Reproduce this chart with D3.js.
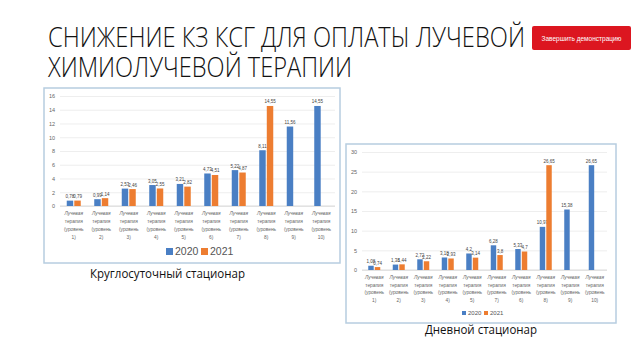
<!DOCTYPE html>
<html><head><meta charset="utf-8">
<script src="https://cdn.jsdelivr.net/npm/d3@7"></script>
<style>body{margin:0;background:#fff;}svg{display:block;}</style>
</head><body>
<svg id="c" width="640" height="360"></svg>
<script>
const titleLines = ["СНИЖЕНИЕ КЗ КСГ ДЛЯ ОПЛАТЫ ЛУЧЕВОЙ", "ХИМИОЛУЧЕВОЙ ТЕРАПИИ"];
const buttonText = "Завершить демонстрацию";
const seriesNames = ["2020", "2021"];

const cats1 = ["1)", "2)", "3)", "4)", "5)", "6)", "7)", "8)", "9)", "10)"];
const s1_2020 = [0.78, 0.99, 2.53, 3.05, 3.21, 4.73, 5.22, 8.11, 11.56, 14.55];
const s1_2021 = [0.79, 1.14, 2.46, 2.55, 2.82, 4.51, 4.87, 14.55, null, null];
const ticks1 = [0, 2, 4, 6, 8, 10, 12, 14, 16];
const caption1 = "Круглосуточный стационар";

const cats2 = ["1)", "2)", "3)", "4)", "5)", "7)", "6)", "8)", "9)", "10)"];
const s2_2020 = [1.08, 1.38, 2.72, 3.18, 4.2, 6.28, 5.33, 10.97, 15.38, 26.65];
const s2_2021 = [0.74, 1.44, 2.22, 2.93, 3.14, 3.8, 4.7, 26.65, null, null];
const ticks2 = [0, 5, 10, 15, 20, 25, 30];
const caption2 = "Дневной стационар";

const catPrefix = ["Лучевая", "терапия", "(уровень"];
const colors = ["#4a7fc4", "#ed7d31"];

const svg = d3.select("#c");

// Title
svg.append("g").selectAll("text").data(titleLines).join("text")
  .attr("x", 48).attr("y", (d, i) => 47 + i * 30)
  .attr("font-family", "Open Sans, sans-serif").attr("font-weight", 300)
  .attr("font-size", 28).attr("fill", "#111")
  .attr("textLength", (d, i) => i === 0 ? 477 : 304).attr("lengthAdjust", "spacingAndGlyphs")
  .text(d => d);

// Button
const btn = svg.append("g");
btn.append("rect").attr("x", 532).attr("y", 26).attr("width", 99).attr("height", 24).attr("rx", 2)
  .attr("fill", "#dc1620");
btn.append("text").attr("x", 581.5).attr("y", 40.5).attr("text-anchor", "middle")
  .attr("font-family", "Liberation Sans, sans-serif").attr("font-size", 6.5).attr("fill", "#fff")
  .attr("textLength", 80).attr("lengthAdjust", "spacingAndGlyphs").text(buttonText);

function fmt(v) { return String(v).replace(".", ","); }

function chart(cfg) {
  const g = svg.append("g");
  g.append("rect").attr("x", cfg.box[0]).attr("y", cfg.box[1])
    .attr("width", cfg.box[2] - cfg.box[0]).attr("height", cfg.box[3] - cfg.box[1])
    .attr("fill", "#fff").attr("stroke", "#b7cde0").attr("stroke-width", 1.5);

  const y = d3.scaleLinear().domain([0, cfg.ticks[cfg.ticks.length - 1]]).range([cfg.plot.y0, cfg.plot.y1]);
  const x = d3.scaleBand().domain(d3.range(cfg.cats.length)).range([cfg.plot.x0, cfg.plot.x1]);
  const xs = d3.scaleBand().domain([0, 1]).range([x.bandwidth() / 2 - cfg.bw - cfg.gap / 2, x.bandwidth() / 2 + cfg.bw + cfg.gap / 2]).paddingInner(cfg.gap / (2 * cfg.bw + cfg.gap));

  const yAxis = d3.axisLeft(y).tickValues(cfg.ticks).tickSize(-(cfg.plot.x1 - cfg.plot.x0)).tickPadding(5).tickFormat(d => d);
  const ga = g.append("g").attr("transform", `translate(${cfg.plot.x0},0)`).call(yAxis);
  ga.select(".domain").remove();
  ga.selectAll(".tick line").attr("stroke", "#e2e2e2").attr("stroke-width", 0.6);
  ga.selectAll(".tick text").attr("font-family", "Liberation Sans, sans-serif").attr("font-size", 5.5).attr("fill", "#666");
  g.append("line").attr("x1", cfg.plot.x0).attr("x2", cfg.plot.x1).attr("y1", y(0)).attr("y2", y(0))
    .attr("stroke", "#d0d0d0").attr("stroke-width", 0.8);

  const series = [cfg.a, cfg.b];
  series.forEach((arr, si) => {
    const pts = arr.map((v, i) => ({ v, i })).filter(d => d.v !== null);
    g.append("g").selectAll("rect").data(pts).join("rect")
      .attr("x", d => x(d.i) + xs(si)).attr("width", xs.bandwidth())
      .attr("y", d => y(d.v)).attr("height", d => y(0) - y(d.v)).attr("fill", colors[si]);
    g.append("g").selectAll("text").data(pts).join("text")
      .attr("x", d => x(d.i) + xs(si) + xs.bandwidth() / 2).attr("y", d => y(d.v) - 2.5)
      .attr("text-anchor", "middle").attr("font-family", "Liberation Sans, sans-serif")
      .attr("font-size", 4.5).attr("fill", "#444").text(d => fmt(d.v));
  });

  const xl = g.append("g").selectAll("text").data(cfg.cats).join("text")
    .attr("text-anchor", "middle").attr("font-family", "Liberation Sans, sans-serif")
    .attr("font-size", 4.8).attr("fill", "#666");
  xl.each(function (d, i) {
    const t = d3.select(this);
    catPrefix.concat([d]).forEach((line, li) => {
      t.append("tspan").attr("x", x(i) + x.bandwidth() / 2).attr("y", cfg.lblY + li * cfg.lblDy)
        .attr("font-style", li === 0 ? "italic" : "normal").text(line);
    });
  });

  const lg = g.append("g");
  seriesNames.forEach((n, i) => {
    const lx = cfg.leg.x + i * cfg.leg.step;
    lg.append("rect").attr("x", lx).attr("y", cfg.leg.y - cfg.leg.sq).attr("width", cfg.leg.sq).attr("height", cfg.leg.sq).attr("fill", colors[i]);
    lg.append("text").attr("x", lx + cfg.leg.sq + 2).attr("y", cfg.leg.y).attr("font-family", "Liberation Sans, sans-serif")
      .attr("font-size", cfg.leg.fs).attr("fill", "#555").text(n);
  });

  svg.append("text").attr("x", cfg.cap.x).attr("y", cfg.cap.y).attr("font-family", "Open Sans, sans-serif")
    .attr("font-size", 12).attr("fill", "#111")
    .attr("textLength", cfg.cap.w).attr("lengthAdjust", "spacingAndGlyphs").text(cfg.cap.t);
}

chart({
  box: [44, 88, 340, 263], plot: { x0: 60, x1: 335, y0: 206, y1: 96 },
  cats: cats1, a: s1_2020, b: s1_2021, ticks: ticks1, bw: 6, gap: 2,
  lblY: 215, lblDy: 8, leg: { x: 166, y: 255, step: 35, sq: 7, fs: 10.5 },
  cap: { x: 90, y: 278, w: 155, t: caption1 }
});
chart({
  box: [346, 144, 616, 323], plot: { x0: 362, x1: 607, y0: 270, y1: 152 },
  cats: cats2, a: s2_2020, b: s2_2021, ticks: ticks2, bw: 5, gap: 2,
  lblY: 279, lblDy: 7.6, leg: { x: 462, y: 315, step: 22, sq: 4, fs: 6 },
  cap: { x: 425, y: 334, w: 112, t: caption2 }
});
</script>
</body></html>
